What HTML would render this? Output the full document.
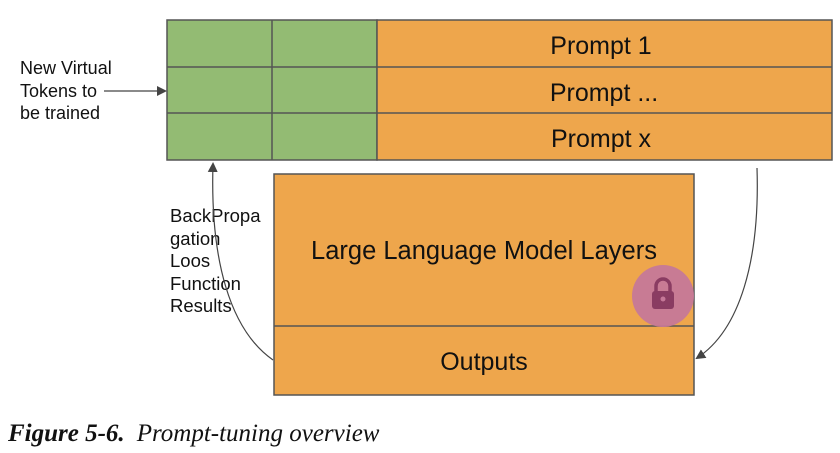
<!DOCTYPE html>
<html><head><meta charset="utf-8"><style>
body{margin:0;width:840px;height:448px;background:#fff;overflow:hidden;font-family:"Liberation Sans",sans-serif}
</style></head><body>
<svg width="840" height="448">
<defs><marker id="ah" markerWidth="10" markerHeight="10" refX="8" refY="5" orient="auto" markerUnits="userSpaceOnUse"><path d="M0,0 L10,5 L0,10 z" fill="#444"/></marker></defs>
<g stroke="#555" stroke-width="1.5">
<rect x="167" y="20" width="210" height="140" fill="#93bb73"/>
<rect x="377" y="20" width="455" height="140" fill="#eea64c"/>
<line x1="272" y1="20" x2="272" y2="160"/>
<line x1="167" y1="67" x2="832" y2="67"/>
<line x1="167" y1="113" x2="832" y2="113"/>
</g>
<g font-size="25" fill="#111" text-anchor="middle">
<text x="601" y="54">Prompt 1</text>
<text x="604" y="101">Prompt ...</text>
<text x="601" y="147">Prompt x</text>
</g>
<g stroke="#555" stroke-width="1.5">
<rect x="274" y="174" width="420" height="221" fill="#eea64c"/>
<line x1="274" y1="326" x2="694" y2="326"/>
</g>
<text x="484" y="259" font-size="25.5" text-anchor="middle" fill="#111">Large Language Model Layers</text>
<text x="484" y="370" font-size="25" text-anchor="middle" fill="#111">Outputs</text>
<g>
<circle cx="663" cy="296" r="31" fill="#c57898" opacity="0.95"/>
<path d="M656,292 v-6 a7,7 0 0 1 14,0 v6" fill="none" stroke="#8a3c62" stroke-width="3.5"/>
<rect x="652" y="291" width="22" height="18" rx="3" fill="#8a3c62"/>
<circle cx="663" cy="299" r="2.5" fill="#c57898"/>
</g>
<g font-size="18" fill="#111">
<text x="20" y="74">New Virtual</text>
<text x="20" y="97">Tokens to</text>
<text x="20" y="119">be trained</text>
</g>
<line x1="104" y1="91" x2="165" y2="91" stroke="#444" stroke-width="1.2" marker-end="url(#ah)"/>
<g font-size="18.5" fill="#111">
<text x="170" y="222">BackPropa</text>
<text x="170" y="245">gation</text>
<text x="170" y="267">Loos</text>
<text x="170" y="290">Function</text>
<text x="170" y="312">Results</text>
</g>
<path d="M273,360 C230,330 210,260 213,164" fill="none" stroke="#444" stroke-width="1.2" marker-end="url(#ah)"/>
<path d="M757,168 C760,260 740,330 697,358" fill="none" stroke="#444" stroke-width="1.2" marker-end="url(#ah)"/>
<text x="8" y="441" font-family="Liberation Serif,serif" font-size="25" fill="#111"><tspan font-weight="bold" font-style="italic">Figure 5-6.</tspan><tspan font-style="italic" dx="12">Prompt-tuning overview</tspan></text>
</svg>
</body></html>
